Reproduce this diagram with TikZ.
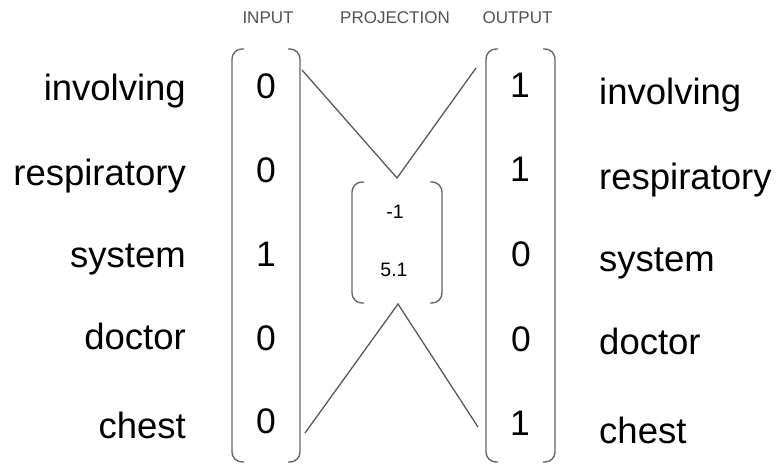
\documentclass[tikz,border=0pt]{standalone}
\usepackage{fontspec}
\setmainfont{Liberation Sans}
\begin{document}
\begin{tikzpicture}[x=1pt,y=-1pt,
  word/.style={inner sep=0pt,font=\fontsize{36.5}{36.5}\selectfont,text=black},
  num/.style={inner sep=0pt,anchor=base,font=\fontsize{35.5}{35.5}\selectfont,text=black},
  small/.style={inner sep=0pt,anchor=base,font=\fontsize{19.5}{19.5}\selectfont,text=black},
  head/.style={inner sep=0pt,font=\fontsize{17}{17}\selectfont,text=black!68},
  brk/.style={draw=black!60,line width=1.4pt,rounded corners=10pt},
  cross/.style={draw=black!65,line width=1.3pt}]
\useasboundingbox (0,0) rectangle (779,464);
% headers
\node[head] (hin) at (268,18) {INPUT};
\node[head] (hpr) at (395,18) {PROJECTION};
\node[head] (hout) at (517.5,18) {OUTPUT};
% brackets
\draw[brk] (244,49) -- (232,49) -- (232,462) -- (244,462);
\draw[brk] (288,49) -- (300,49) -- (300,462) -- (288,462);
\draw[brk] (498,49) -- (486,49) -- (486,462) -- (498,462);
\draw[brk] (543,49) -- (555,49) -- (555,462) -- (543,462);
\draw[brk] (364,182) -- (352,182) -- (352,303) -- (364,303);
\draw[brk] (430,182) -- (442,182) -- (442,303) -- (430,303);
% left words
\node[word,anchor=base east] (l1) at (186,100) {involving};
\node[word,anchor=base east] (l2) at (186,185) {respiratory};
\node[word,anchor=base east] (l3) at (186,267) {system};
\node[word,anchor=base east] (l4) at (186,349) {doctor};
\node[word,anchor=base east] (l5) at (186,438) {chest};
% input numbers
\node[num] (i1) at (266,98) {0};
\node[num] (i2) at (266,182) {0};
\node[num] (i3) at (266,266) {1};
\node[num] (i4) at (266,350) {0};
\node[num] (i5) at (266,433) {0};
% projection
\node[small] (p1) at (395,218) {-1};
\node[small] (p2) at (394,276) {5.1};
% output numbers
\node[num] (o1) at (520,97) {1};
\node[num] (o2) at (520,181) {1};
\node[num] (o3) at (521,266) {0};
\node[num] (o4) at (521,351) {0};
\node[num] (o5) at (520,435) {1};
% right words
\node[word,anchor=base west] (r1) at (599,104) {involving};
\node[word,anchor=base west] (r2) at (599,189) {respiratory};
\node[word,anchor=base west] (r3) at (599,271) {system};
\node[word,anchor=base west] (r4) at (599,354) {doctor};
\node[word,anchor=base west] (r5) at (599,443) {chest};
% cross lines
\coordinate (a1) at (302,70);
\coordinate (v1) at (397,178);
\coordinate (b1) at (476,68);
\coordinate (a2) at (305,433);
\coordinate (v2) at (398,304);
\coordinate (b2) at (478,427);
\draw[cross] (a1) -- (v1) -- (b1);
\draw[cross] (a2) -- (v2) -- (b2);
\end{tikzpicture}
\end{document}
